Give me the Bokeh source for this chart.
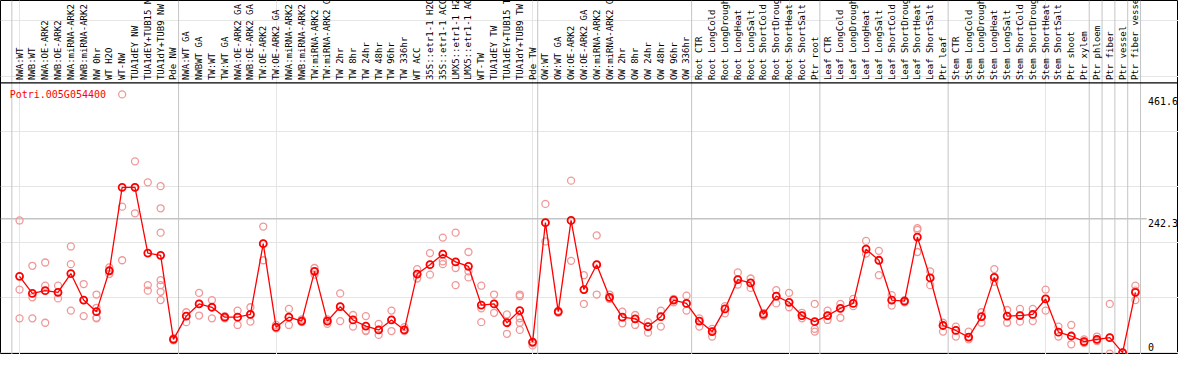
import math
from bokeh.plotting import figure
from bokeh.models import Range1d, Span
from bokeh.core.properties import value
from bokeh.embed import file_html
from bokeh.resources import INLINE

title_text = "Potri.005G054400"

categories = [
    "NWA:WT", "NWB:WT", "NWA:OE-ARK2", "NWB:OE-ARK2", "NWA:miRNA-ARK2", "NWB:miRNA-ARK2",
    "NW 0hr", "WT H2O", "WT-NW", "TUA1dEY NW", "TUA1dEY+TUB15 NW", "TUA1dY+TUB9 NW", "Pde NW",
    "NWA:WT GA", "NWBWT GA", "TW:WT", "TW:WT GA", "NWA:OE-ARK2 GA", "NWB:OE-ARK2 GA",
    "TW:OE-ARK2", "TW:OE-ARK2 GA", "NWA:miRNA-ARK2 GA", "NWB:miRNA-ARK2 GA", "TW:miRNA-ARK2",
    "TW:miRNA-ARK2 GA", "TW 2hr", "TW 8hr", "TW 24hr", "TW 48hr", "TW 96hr", "TW 336hr",
    "WT ACC", "35S::etr1-1 H2O", "35S::etr1-1 ACC", "LMX5::etr1-1 H2O", "LMX5::etr1-1 ACC",
    "WT-TW", "TUA1dEY TW", "TUA1dEY+TUB15 TW", "TUA1dY+TUB9 TW", "Pde TW",
    "OW:WT", "OW:WT GA", "OW:OE-ARK2", "OW:OE-ARK2 GA", "OW:miRNA-ARK2", "OW:miRNA-ARK2 GA",
    "OW 2hr", "OW 8hr", "OW 24hr", "OW 48hr", "OW 96hr", "OW 336hr",
    "Root CTR", "Root LongCold", "Root LongDrought", "Root LongHeat", "Root LongSalt",
    "Root ShortCold", "Root ShortDrought", "Root ShortHeat", "Root ShortSalt", "Ptr root",
    "Leaf CTR", "Leaf LongCold", "Leaf LongDrought", "Leaf LongHeat", "Leaf LongSalt",
    "Leaf ShortCold", "Leaf ShortDrought", "Leaf ShortHeat", "Leaf ShortSalt", "Ptr leaf",
    "Stem CTR", "Stem LongCold", "Stem LongDrought", "Stem LongHeat", "Stem LongSalt",
    "Stem ShortCold", "Stem ShortDrought", "Stem ShortHeat", "Stem ShortSalt", "Ptr shoot",
    "Ptr xylem", "Ptr phloem", "Ptr fiber", "Ptr vessel", "Ptr fiber vessel",
]

group_sizes = [13, 28, 12, 10, 10, 11, 1, 1, 1, 1]

means = [138, 107, 112, 109, 143, 95, 74, 148, 299, 299,
         180, 176, 24, 66, 88, 82, 64, 64, 69, 197,
         46, 64, 57, 147, 57, 83, 59, 48, 41, 59,
         41, 142, 159, 178, 164, 156, 86, 88, 54, 76,
         19, 235, 74, 239, 114, 159, 100, 64, 61, 47,
         65, 95, 89, 57, 38, 79, 132, 126, 69, 102,
         91, 67, 56, 67, 80, 89, 187, 167, 95, 93,
         209, 135, 49, 40, 28, 65, 136, 66, 67, 69,
         97, 37, 30, 20, 24, 27, 0, 109]

replicates = [
    [239, 114, 62], [157, 100, 62], [163, 121, 54], [121, 98, 109], [192, 160, 76],
    [124, 66, 95], [105, 81, 63, 62], [154, 142, 148], [467, 264, 167], [346, 252, 299],
    [308, 122, 112], [301, 261, 217, 131, 122, 110, 95], [26, 22, 24], [73, 55, 66],
    [108, 67, 88], [95, 62, 82], [66, 62, 64], [76, 50, 64], [82, 56, 69], [228, 167, 197],
    [50, 44, 46], [79, 50, 64], [60, 55, 57], [153, 141, 147], [60, 52, 57], [107, 57, 83],
    [68, 47, 59], [66, 39, 40], [52, 32, 41], [76, 39, 59], [46, 39, 41], [151, 134, 142],
    [180, 141, 159], [208, 165, 160], [217, 153, 122], [182, 147, 136], [121, 80, 55],
    [105, 72, 88], [69, 34, 54], [105, 102, 62, 54, 41], [17, 13, 19], [269, 201, 235],
    [76, 72, 74], [311, 166, 239], [140, 88, 114], [212, 105, 159], [105, 97, 100],
    [74, 53, 64], [68, 50, 61], [55, 36, 47], [76, 47, 65], [97, 91, 95], [103, 76, 89],
    [62, 47, 57], [43, 29, 38], [84, 71, 79], [145, 123, 132], [134, 117, 126], [72, 66, 69],
    [113, 89, 102], [108, 82, 91], [72, 62, 67], [88, 43, 38], [76, 59, 67], [88, 63, 80],
    [97, 84, 89], [202, 179, 187], [184, 140, 167], [104, 85, 95], [95, 91, 93],
    [225, 222, 182], [147, 122, 135], [54, 38, 49], [47, 29, 40], [38, 24, 28], [73, 54, 65],
    [151, 128, 136], [77, 54, 66], [79, 56, 67], [79, 57, 69], [114, 76, 97], [47, 29, 37],
    [50, 15, 30], [24, 17, 20], [29, 21, 24], [88, -2, 27], [0, 0, 0], [121, 95, 112],
]

tick_values = [461.6, 242.3, 0]
tick_labels = ["461.6", "242.3", "0"]

# ---- layout constants ----
W, H = 1178, 354
x_lo, x_hi = -1.485, 90.36
y_lo, y_hi = -3.46, 636.9
header_line_y = 488.0
header_text_y = 493.0
title_pos = (-0.77, 476.0)
label_x = 87.98
mono = value("DejaVu Sans Mono")

p = figure(width=W, height=H, x_range=Range1d(x_lo, x_hi), y_range=Range1d(y_lo, y_hi),
           output_backend="svg", toolbar_location=None, min_border=0,
           x_axis_location=None, y_axis_location=None)
p.outline_line_color = "black"
p.outline_line_width = 1
p.background_fill_color = "white"
p.border_fill_color = "white"

idx = list(range(len(categories)))

# vertical group separators
b = -0.6
p.add_layout(Span(location=b, dimension="height", line_color="#c4c4c4", line_width=1, level="underlay"))
for g in group_sizes:
    b += g
    p.add_layout(Span(location=b, dimension="height", line_color="#c4c4c4", line_width=1, level="underlay"))

# horizontal gridline at middle tick
p.segment(x0=[x_lo], y0=[tick_values[1]], x1=[label_x - 0.1], y1=[tick_values[1]],
          line_color="#c4c4c4", line_width=1.5)

# header separator
p.add_layout(Span(location=header_line_y, dimension="width", line_color="black", line_width=1.2))

# header labels
p.text(x=idx, y=[header_text_y] * len(idx), text=categories, angle=math.pi / 2,
       text_align="left", text_baseline="middle", text_font=mono,
       text_font_size="9px", text_color="black")

# replicates
rx, ry = [], []
for i, reps in enumerate(replicates):
    for v in reps:
        rx.append(i)
        ry.append(v)
p.scatter(rx, ry, marker="circle", size=7, fill_color=None, line_color="#f09898", line_width=1.3)

# mean line + markers
p.line(idx, means, line_color="#ff0000", line_width=1.3)
p.scatter(idx, means, marker="circle", size=7, fill_color=None, line_color="#ff0000", line_width=1.8)

# title
p.text(x=[title_pos[0]], y=[title_pos[1]], text=[title_text], text_align="left",
       text_baseline="top", text_font=mono, text_font_size="10px", text_color="#ff0000")

# value labels on the right
p.text(x=[label_x, label_x], y=tick_values[:2], text=tick_labels[:2], text_align="left",
       text_baseline="top", text_font=mono, text_font_size="10px", text_color="black")
p.text(x=[label_x], y=tick_values[2:], text=tick_labels[2:], text_align="left",
       text_baseline="bottom", y_offset=-2, text_font=mono, text_font_size="10px",
       text_color="black")

open("out.html", "w").write(file_html(p, INLINE))
